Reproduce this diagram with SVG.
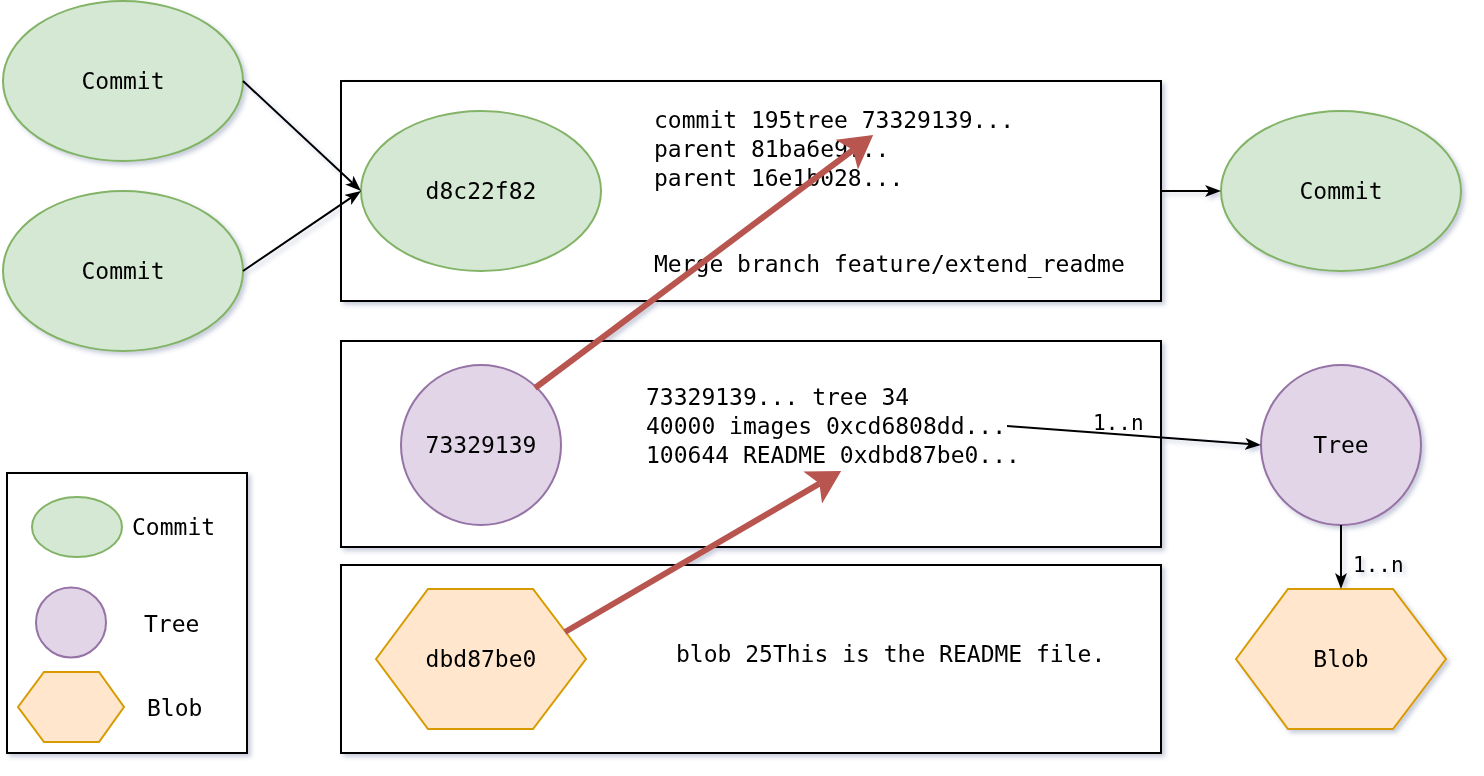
<svg xmlns="http://www.w3.org/2000/svg" width="1484" height="776" viewBox="0 0 1484 776">
<defs>
<filter id="sh" x="-20%" y="-20%" width="140%" height="140%">
<feDropShadow dx="3" dy="3" stdDeviation="2.2" flood-color="#3c4a80" flood-opacity="0.28"/>
</filter>
<marker id="blk" markerUnits="strokeWidth" markerWidth="8" markerHeight="6" refX="2" refY="3" orient="auto" viewBox="0 0 8 6">
<path d="M0,0 L8,3 L0,6 L2,3 Z" fill="#000"/>
</marker>
<marker id="red" markerUnits="strokeWidth" markerWidth="5.5" markerHeight="6.2" refX="1.3" refY="3.1" orient="auto" viewBox="0 0 5.5 6.2">
<path d="M0,0 L5.5,3.1 L0,6.2 L1.3,3.1 Z" fill="#b85450"/>
</marker>
</defs>
<style>
text{font-family:"DejaVu Sans Mono","Liberation Mono",monospace;font-size:23px;fill:#000}
.c{text-anchor:middle}
.commit{fill:#d5e8d4;stroke:#82b366;stroke-width:2}
.tree{fill:#e1d5e7;stroke:#9673a6;stroke-width:2}
.blob{fill:#ffe6cc;stroke:#d79b00;stroke-width:2}
.box{fill:#fff;stroke:#000;stroke-width:2}
.edge{fill:none;stroke:#000;stroke-width:2;marker-end:url(#blk)}
.redge{fill:none;stroke:#b85450;stroke-width:6;marker-end:url(#red)}
.lbl{font-size:21px}
</style>
<rect width="1484" height="776" fill="#fff"/>
<g filter="url(#sh)">
<g id="box-commit">
<rect class="box" x="341" y="81" width="820" height="220"/>
<text x="654" y="128">commit 195tree 73329139...</text>
<text x="654" y="157">parent 81ba6e9...</text>
<text x="654" y="186">parent 16e1b028...</text>
<text x="654" y="272">Merge branch feature/extend_readme</text>
</g>
<g id="box-tree">
<rect class="box" x="341" y="341" width="820" height="206"/>
<text x="646" y="405">73329139... tree 34</text>
<text x="646" y="434">40000 images 0xcd6808dd...</text>
<text x="646" y="463">100644 README 0xdbd87be0...</text>
</g>
<g id="box-blob">
<rect class="box" x="341" y="565" width="820" height="188"/>
<text x="676" y="662">blob 25This is the README file.</text>
</g>
<g id="legend">
<rect class="box" x="7" y="473" width="240" height="280"/>
<ellipse class="commit" cx="77" cy="527" rx="45" ry="30"/>
<text x="132" y="535">Commit</text>
<circle class="tree" cx="71" cy="622.5" r="35"/>
<text x="144" y="632">Tree</text>
<polygon class="blob" points="18,707 44,672 99,672 124,707 99,742 44,742"/>
<text x="147" y="716">Blob</text>
</g>
<g id="commit-parent1">
<ellipse class="commit" cx="123" cy="81" rx="120" ry="80"/>
<text class="c" x="123" y="89">Commit</text>
</g>
<g id="commit-parent2">
<ellipse class="commit" cx="123" cy="271" rx="120" ry="80"/>
<text class="c" x="123" y="279">Commit</text>
</g>
<g id="commit-d8c22f82">
<ellipse class="commit" cx="481" cy="191" rx="120" ry="80"/>
<text class="c" x="481" y="199">d8c22f82</text>
</g>
<g id="commit-child">
<ellipse class="commit" cx="1341" cy="191" rx="120" ry="80"/>
<text class="c" x="1341" y="199">Commit</text>
</g>
<g id="tree-73329139">
<circle class="tree" cx="481" cy="445" r="80"/>
<text class="c" x="481" y="453">73329139</text>
</g>
<g id="tree-generic">
<circle class="tree" cx="1341" cy="445" r="80"/>
<text class="c" x="1341" y="453">Tree</text>
</g>
<g id="blob-dbd87be0">
<polygon class="blob" points="376,659 428,589 533,589 586,659 533,729 428,729"/>
<text class="c" x="481" y="667">dbd87be0</text>
</g>
<g id="blob-generic">
<polygon class="blob" points="1236,659 1288,589 1393,589 1446,659 1393,729 1288,729"/>
<text class="c" x="1341" y="667">Blob</text>
</g>
<g id="connectors">
<path class="edge" d="M243,81 L352.2,182.8"/>
<path class="edge" d="M243,271 L351.1,197.7"/>
<path class="edge" d="M1161,191 L1209,191"/>
<path class="edge" d="M1007,426 L1249,444.1"/>
<text class="lbl" x="1093" y="430">1..n</text>
<path class="edge" d="M1341,525 L1341,577"/>
<text class="lbl" x="1353" y="572">1..n</text>
<path class="redge" d="M535,388 L853,150"/>
<path class="redge" d="M565,632 L819.4,483.6"/>
</g>
</g>
</svg>
